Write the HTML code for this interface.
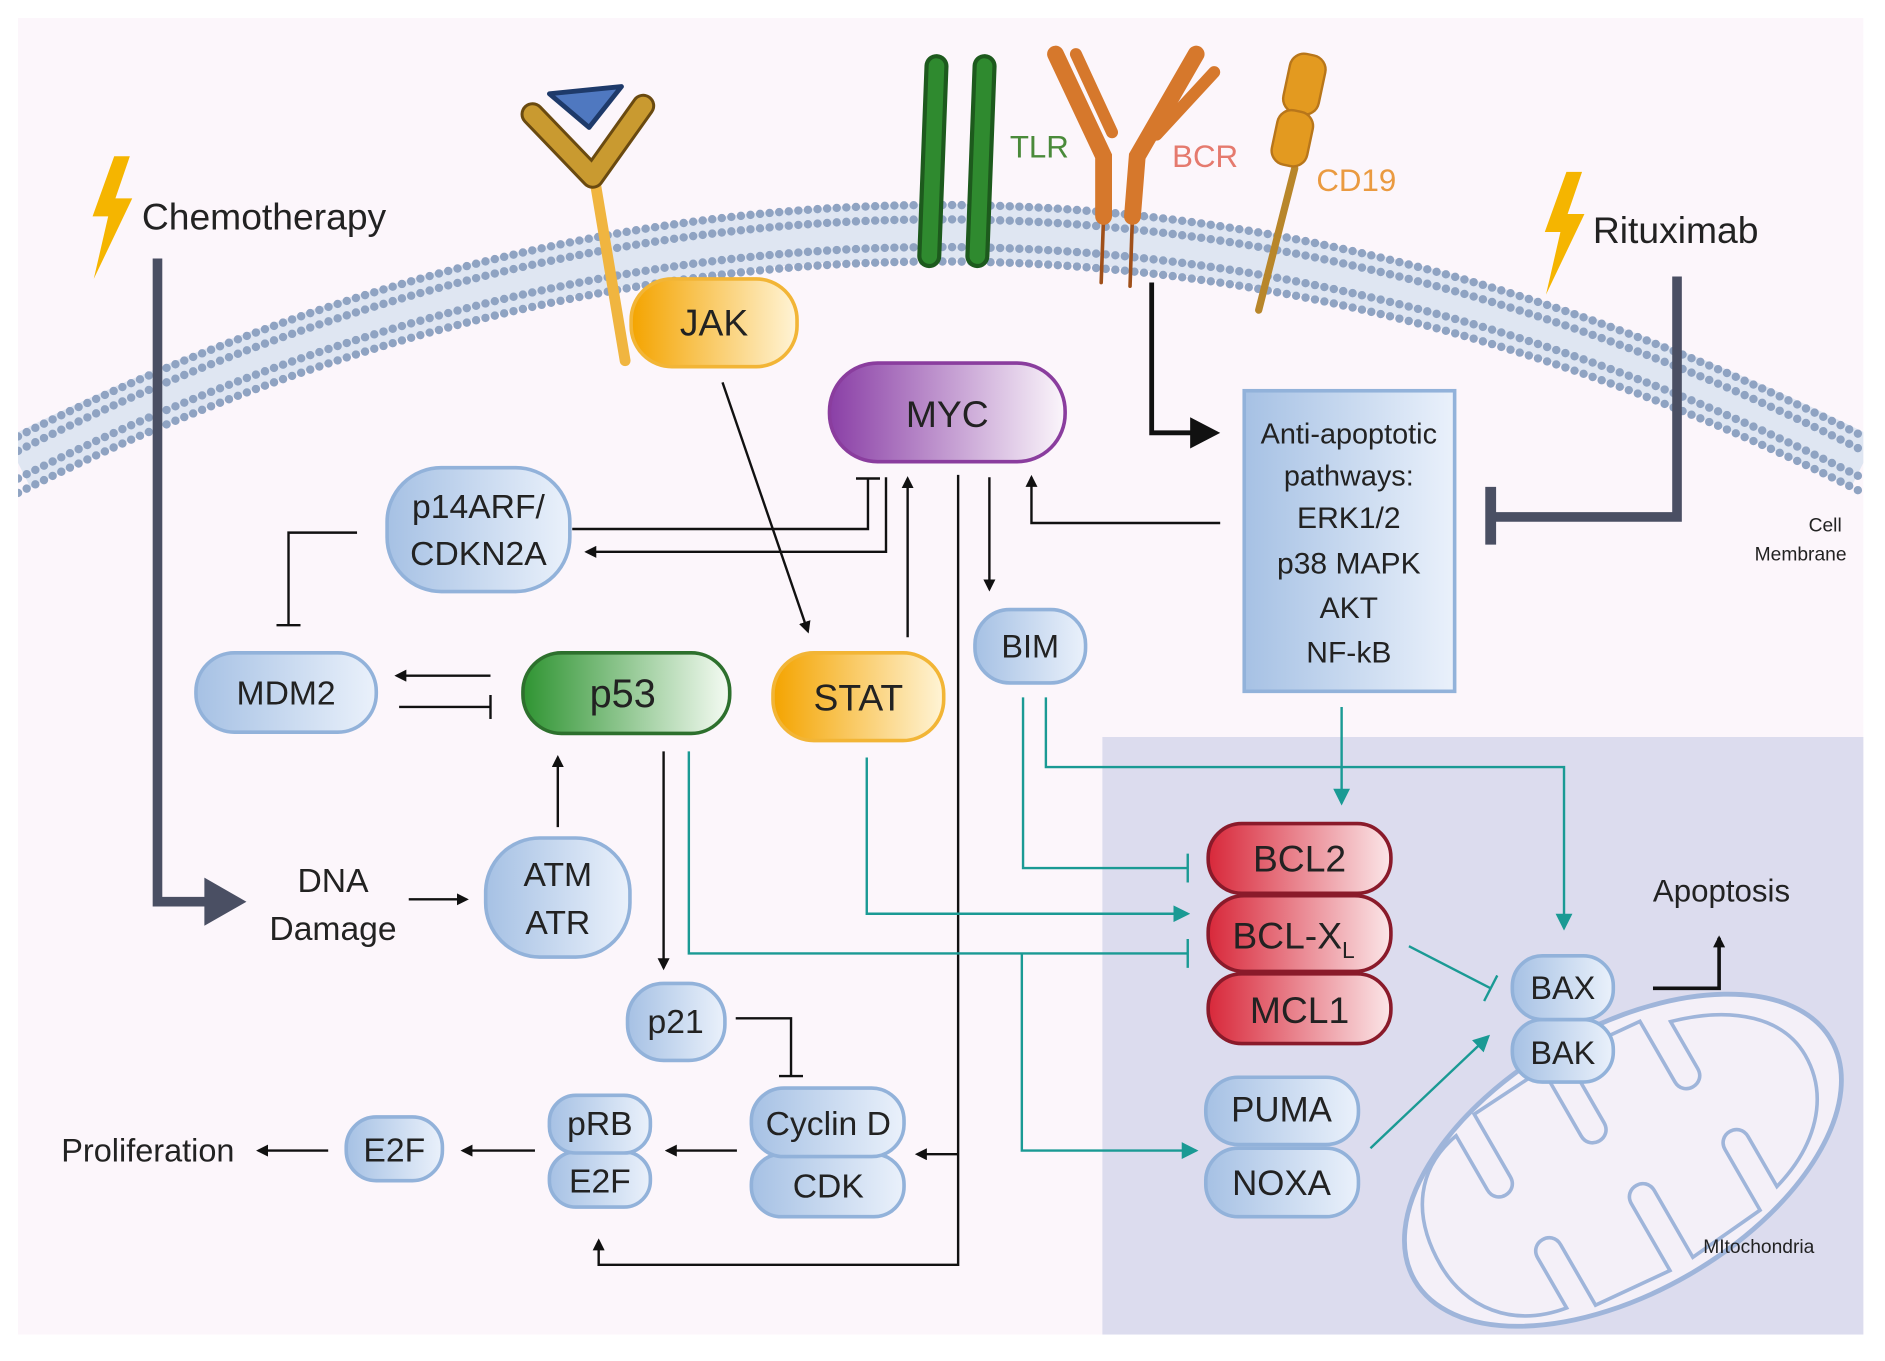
<!DOCTYPE html>
<html><head><meta charset="utf-8"><style>
html,body{margin:0;padding:0;background:#fff;overflow:hidden;}
svg{display:block;}
text{font-family:"Liberation Sans",sans-serif;fill:#222;}
</style></head><body>
<svg width="1885" height="1361" viewBox="0 0 1568 1132" preserveAspectRatio="none" xmlns="http://www.w3.org/2000/svg">
<defs>
<clipPath id="cp"><rect x="15" y="15" width="1535" height="1095"/></clipPath>
<linearGradient id="gb" x1="0" x2="1"><stop offset="0" stop-color="#a6c1e4"/><stop offset="1" stop-color="#eaf1fb"/></linearGradient>
<linearGradient id="go" x1="0" x2="1"><stop offset="0" stop-color="#f4a400"/><stop offset="1" stop-color="#fff4d6"/></linearGradient>
<linearGradient id="gp" x1="0" x2="1"><stop offset="0" stop-color="#8a3fa6"/><stop offset="1" stop-color="#fbf6fb"/></linearGradient>
<linearGradient id="gg" x1="0" x2="1"><stop offset="0" stop-color="#2f9432"/><stop offset="1" stop-color="#f5fbf3"/></linearGradient>
<linearGradient id="gr" x1="0" x2="1"><stop offset="0" stop-color="#d8283a"/><stop offset="1" stop-color="#fbe6e8"/></linearGradient>
<marker id="ak" markerWidth="10" markerHeight="10" refX="8" refY="5" orient="auto" markerUnits="userSpaceOnUse"><path d="M0,0 L10,5 L0,10 z" fill="#111"/></marker>
<marker id="at" markerWidth="14" markerHeight="14" refX="12" refY="7" orient="auto" markerUnits="userSpaceOnUse"><path d="M0,0 L14,7 L0,14 z" fill="#1a9a94"/></marker>
<marker id="tk" markerWidth="4" markerHeight="20" refX="2" refY="10" orient="auto" markerUnits="userSpaceOnUse"><rect x="1" y="0" width="2" height="20" fill="#111"/></marker>
<marker id="tt" markerWidth="4" markerHeight="24" refX="2" refY="12" orient="auto" markerUnits="userSpaceOnUse"><rect x="1" y="0" width="2" height="24" fill="#1a9a94"/></marker>
</defs>
<rect width="1568" height="1132" fill="#fff"/>
<rect x="15" y="15" width="1535" height="1095" fill="#fcf6fb"/>
<rect x="917" y="613" width="633" height="497" fill="#dcdcee"/>
<g clip-path="url(#cp)">
<!-- membrane -->
<path d="M15,385 Q783,0 1550,385" fill="none" stroke="#dfe6f2" stroke-width="46"/>
<path d="M15,363 Q783,-22 1550,363" fill="none" stroke="#8fa3c2" stroke-width="7" stroke-dasharray="0 8" stroke-linecap="round"/>
<path d="M15,375 Q783,-10 1550,375" fill="none" stroke="#8fa3c2" stroke-width="7" stroke-dasharray="0 8" stroke-linecap="round"/>
<path d="M15,398 Q783,13 1550,398" fill="none" stroke="#8fa3c2" stroke-width="7" stroke-dasharray="0 8" stroke-linecap="round"/>
<path d="M15,410 Q783,25 1550,410" fill="none" stroke="#8fa3c2" stroke-width="7" stroke-dasharray="0 8" stroke-linecap="round"/>
<!-- mitochondria -->
<g transform="rotate(-30 1350 965)">
<ellipse cx="1350" cy="965" rx="200" ry="110" fill="#f4f0f8" stroke="#9fb5da" stroke-width="4"/>
<path d="M1175,965 C1175,915 1200,885 1240,878 L1240,930 C1240,945 1262,945 1262,930 L1262,870 L1330,866 L1330,930 C1330,945 1352,945 1352,930 L1352,866 L1420,872 L1420,930 C1420,945 1442,945 1442,930 L1442,885 C1495,900 1525,930 1525,965 C1525,1005 1495,1035 1450,1048 L1450,1000 C1450,985 1428,985 1428,1000 L1428,1058 L1360,1064 L1360,1000 C1360,985 1338,985 1338,1000 L1338,1064 L1270,1058 L1270,1000 C1270,985 1248,985 1248,1000 L1248,1048 C1200,1040 1175,1005 1175,965 z" fill="none" stroke="#9fb5da" stroke-width="3"/>
</g>
</g>
<!-- lightning -->
<polygon points="95,130 108,130 96,165 110,165 78,232 90,180 77,180" fill="#f5b500"/>
<polygon points="1303,143 1316,143 1304,178 1318,178 1286,245 1298,193 1285,193" fill="#f5b500"/>
<text x="118" y="191" font-size="31">Chemotherapy</text>
<text x="1325" y="202" font-size="31">Rituximab</text>
<!-- JAK receptor -->
<line x1="520" y1="300" x2="494" y2="145" stroke="#f0b540" stroke-width="9" stroke-linecap="round"/>
<path d="M443,95 L493,147 L535,88" fill="none" stroke="#6a4a10" stroke-width="20" stroke-linejoin="round" stroke-linecap="round"/>
<path d="M443,95 L493,147 L535,88" fill="none" stroke="#c99a30" stroke-width="15" stroke-linejoin="round" stroke-linecap="round"/>
<polygon points="457,78 517,72 490,106" fill="#4f78c0" stroke="#1e3a6a" stroke-width="4" stroke-linejoin="round"/>
<!-- TLR -->
<line x1="773" y1="213" x2="779" y2="55" stroke="#1d5a1d" stroke-width="20" stroke-linecap="round"/>
<line x1="773" y1="213" x2="779" y2="55" stroke="#2f8a2f" stroke-width="13" stroke-linecap="round"/>
<line x1="813" y1="213" x2="819" y2="55" stroke="#1d5a1d" stroke-width="20" stroke-linecap="round"/>
<line x1="813" y1="213" x2="819" y2="55" stroke="#2f8a2f" stroke-width="13" stroke-linecap="round"/>
<text x="840" y="131" font-size="26" style="fill:#4a8a3a">TLR</text>
<!-- BCR -->
<g stroke="#d6782c" stroke-linecap="round" fill="none">
<line x1="916" y1="235" x2="918" y2="180" stroke-width="3" stroke="#a0501a"/>
<line x1="940" y1="238" x2="942" y2="180" stroke-width="3" stroke="#a0501a"/>
<path d="M918,180 L918,130 L878,45" stroke-width="14"/>
<path d="M942,180 L946,130 L995,45" stroke-width="14"/>
<path d="M925,110 L895,45" stroke-width="10"/>
<path d="M962,112 L1010,60" stroke-width="10"/>
</g>
<text x="975" y="139" font-size="26" style="fill:#e57a6e">BCR</text>
<!-- CD19 -->
<line x1="1077" y1="140" x2="1047" y2="258" stroke="#b8862a" stroke-width="6" stroke-linecap="round"/>
<rect x="1070" y="45" width="30" height="50" rx="12" transform="rotate(12 1085 70)" fill="#e39a20" stroke="#b8761a" stroke-width="2"/>
<rect x="1060" y="92" width="30" height="46" rx="12" transform="rotate(12 1075 115)" fill="#e39a20" stroke="#b8761a" stroke-width="2"/>
<text x="1095" y="159" font-size="26" style="fill:#ea9a40">CD19</text>
<text x="1532" y="442" font-size="16" text-anchor="end">Cell</text>
<text x="1536" y="466" font-size="16" text-anchor="end">Membrane</text>
<text x="1463" y="1042" font-size="16" text-anchor="middle">MItochondria</text>
<!-- thick chemo & rituximab -->
<polyline points="131,215 131,750 180,750" fill="none" stroke="#4a4f63" stroke-width="8"/>
<polygon points="170,730 205,750 170,770" fill="#4a4f63"/>
<polyline points="1395,230 1395,430 1240,430" fill="none" stroke="#4a4f63" stroke-width="8"/>
<line x1="1240" y1="405" x2="1240" y2="453" stroke="#4a4f63" stroke-width="9"/>
<polyline points="958,235 958,360 995,360" fill="none" stroke="#111" stroke-width="4"/>
<polygon points="990,347 1015,360 990,373" fill="#111"/>
<!-- black arrows -->
<g fill="none" stroke="#111" stroke-width="2">
<line x1="601" y1="318" x2="672" y2="525" marker-end="url(#ak)"/>
<polyline points="476,440 722,440 722,398" marker-end="url(#tk)"/>
<polyline points="737,397 737,459 488,459" marker-end="url(#ak)"/>
<polyline points="755,530 755,398" marker-end="url(#ak)"/>
<polyline points="823,397 823,490" marker-end="url(#ak)"/>
<polyline points="797,395 797,1052 498,1052 498,1032" marker-end="url(#ak)"/>
<polyline points="797,960 763,960" marker-end="url(#ak)"/>
<polyline points="1015,435 858,435 858,397" marker-end="url(#ak)"/>
<polyline points="297,443 240,443 240,520" marker-end="url(#tk)"/>
<polyline points="408,562 330,562" marker-end="url(#ak)"/>
<polyline points="332,588 408,588" marker-end="url(#tk)"/>
<polyline points="464,688 464,630" marker-end="url(#ak)"/>
<polyline points="340,748 388,748" marker-end="url(#ak)"/>
<polyline points="552,625 552,805" marker-end="url(#ak)"/>
<polyline points="612,847 658,847 658,895" marker-end="url(#tk)"/>
<polyline points="613,957 555,957" marker-end="url(#ak)"/>
<polyline points="445,957 385,957" marker-end="url(#ak)"/>
<polyline points="273,957 215,957" marker-end="url(#ak)"/>
</g>
<g fill="none" stroke="#111" stroke-width="3">
<polyline points="1375,822 1430,822 1430,780" marker-end="url(#ak)"/>
</g>
<!-- teal -->
<g fill="none" stroke="#1a9a94" stroke-width="2">
<polyline points="573,625 573,793 988,793" marker-end="url(#tt)"/>
<polyline points="850,793 850,957 995,957" marker-end="url(#at)"/>
<polyline points="721,630 721,760 988,760" marker-end="url(#at)"/>
<polyline points="851,580 851,722 988,722" marker-end="url(#tt)"/>
<polyline points="870,580 870,638 1301,638 1301,772" marker-end="url(#at)"/>
<polyline points="1116,588 1116,668" marker-end="url(#at)"/>
<polyline points="1172,787 1240,822" marker-end="url(#tt)"/>
<polyline points="1140,955 1238,862" marker-end="url(#at)"/>
</g>
<!-- nodes -->
<g stroke-width="3">
<rect x="525" y="232" width="138" height="73" rx="34" fill="url(#go)" stroke="#f2b536"/>
<rect x="690" y="302" width="196" height="82" rx="40" fill="url(#gp)" stroke="#8a3d9e"/>
<rect x="322" y="389" width="152" height="103" rx="45" fill="url(#gb)" stroke="#92b2da"/>
<rect x="163" y="543" width="150" height="66" rx="32" fill="url(#gb)" stroke="#92b2da"/>
<rect x="435" y="543" width="172" height="67" rx="32" fill="url(#gg)" stroke="#2d702d"/>
<rect x="643" y="543" width="142" height="73" rx="34" fill="url(#go)" stroke="#f2b536"/>
<rect x="811" y="507" width="92" height="61" rx="29" fill="url(#gb)" stroke="#92b2da"/>
<rect x="1035" y="325" width="175" height="250" fill="url(#gb)" stroke="#92b2da"/>
<rect x="404" y="697" width="120" height="99" rx="45" fill="url(#gb)" stroke="#92b2da"/>
<rect x="522" y="818" width="81" height="64" rx="30" fill="url(#gb)" stroke="#92b2da"/>
<rect x="625" y="960" width="127" height="52" rx="25" fill="url(#gb)" stroke="#92b2da"/>
<rect x="625" y="905" width="127" height="57" rx="27" fill="url(#gb)" stroke="#92b2da"/>
<rect x="457" y="958" width="84" height="46" rx="22" fill="url(#gb)" stroke="#92b2da"/>
<rect x="457" y="911" width="84" height="48" rx="22" fill="url(#gb)" stroke="#92b2da"/>
<rect x="288" y="929" width="80" height="53" rx="25" fill="url(#gb)" stroke="#92b2da"/>
<rect x="1005" y="810" width="152" height="58" rx="28" fill="url(#gr)" stroke="#8a1a2a"/>
<rect x="1005" y="745" width="152" height="63" rx="30" fill="url(#gr)" stroke="#8a1a2a"/>
<rect x="1005" y="685" width="152" height="58" rx="28" fill="url(#gr)" stroke="#8a1a2a"/>
<rect x="1003" y="955" width="127" height="57" rx="27" fill="url(#gb)" stroke="#92b2da"/>
<rect x="1003" y="896" width="127" height="56" rx="27" fill="url(#gb)" stroke="#92b2da"/>
<rect x="1258" y="848" width="84" height="52" rx="25" fill="url(#gb)" stroke="#92b2da"/>
<rect x="1258" y="795" width="84" height="53" rx="25" fill="url(#gb)" stroke="#92b2da"/>
</g>
<g font-size="31" text-anchor="middle">
<text x="594" y="279">JAK</text>
<text x="788" y="355">MYC</text>
<text x="398" y="431" font-size="28">p14ARF/</text>
<text x="398" y="470" font-size="28">CDKN2A</text>
<text x="238" y="586" font-size="28">MDM2</text>
<text x="518" y="588" font-size="33">p53</text>
<text x="714" y="591">STAT</text>
<text x="857" y="547" font-size="27">BIM</text>
<text x="1122" y="369" font-size="24">Anti-apoptotic</text>
<text x="1122" y="404" font-size="24">pathways:</text>
<text x="1122" y="439" font-size="25">ERK1/2</text>
<text x="1122" y="477" font-size="25">p38 MAPK</text>
<text x="1122" y="514" font-size="25">AKT</text>
<text x="1122" y="551" font-size="25">NF-kB</text>
<text x="277" y="742" font-size="28">DNA</text>
<text x="277" y="782" font-size="28">Damage</text>
<text x="464" y="737" font-size="28">ATM</text>
<text x="464" y="777" font-size="28">ATR</text>
<text x="562" y="859" font-size="28">p21</text>
<text x="689" y="944" font-size="28">Cyclin D</text>
<text x="689" y="996" font-size="28">CDK</text>
<text x="499" y="944" font-size="28">pRB</text>
<text x="499" y="992" font-size="28">E2F</text>
<text x="328" y="966" font-size="28">E2F</text>
<text x="123" y="966" font-size="27">Proliferation</text>
<text x="1081" y="725">BCL2</text>
<text x="1076" y="789">BCL-X<tspan font-size="19" dy="8">L</tspan></text>
<text x="1081" y="851">MCL1</text>
<text x="1066" y="933" font-size="29">PUMA</text>
<text x="1066" y="994" font-size="29">NOXA</text>
<text x="1300" y="831" font-size="27">BAX</text>
<text x="1300" y="885" font-size="27">BAK</text>
<text x="1432" y="750" font-size="26">Apoptosis</text>
</g>
</svg>
</body></html>
